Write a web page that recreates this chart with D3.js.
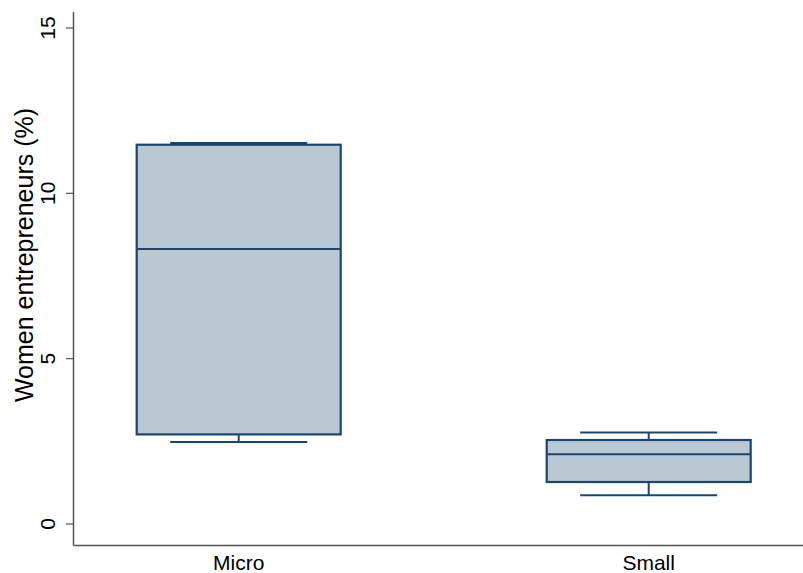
<!DOCTYPE html>
<html>
<head>
<meta charset="utf-8">
<script src="https://cdn.jsdelivr.net/npm/d3@7"></script>
<style>
  html, body { margin: 0; padding: 0; background: #fff; }
  svg { display: block; font-family: "Liberation Sans", Arial, Helvetica, sans-serif; }
</style>
</head>
<body>
<svg id="chart" width="803" height="573"></svg>
<script>
// ---- data ----
const categories   = ["Micro", "Small"];
const whiskerLow   = [2.48, 0.87];
const q1           = [2.71, 1.27];
const median       = [8.32, 2.11];
const q3           = [11.47, 2.54];
const whiskerHigh  = [11.52, 2.77];
const yTicks       = [0, 5, 10, 15];
const yTitle       = "Women entrepreneurs (%)";

const data = categories.map((c, i) => ({
  cat: c, lo: whiskerLow[i], q1: q1[i], med: median[i], q3: q3[i], hi: whiskerHigh[i]
}));

// ---- layout ----
const svg = d3.select("#chart");
const W = 803, H = 573;
const axisX = 73.5, axisY = 545.5, plotTop = 12;
const boxW = 204, capW = 137;
const navy = "#1a476f", fill = "#b9c8d3", axisCol = "#555555";

const x = d3.scalePoint().domain(categories).range([238.7, 648.7]);
const y = d3.scaleLinear().domain([0, 15]).range([524, 28]);

// axis lines
svg.append("line").attr("x1", axisX).attr("x2", axisX).attr("y1", plotTop).attr("y2", axisY)
  .attr("stroke", axisCol).attr("stroke-width", 1.5);
svg.append("line").attr("x1", axisX).attr("x2", W).attr("y1", axisY).attr("y2", axisY)
  .attr("stroke", axisCol).attr("stroke-width", 1.5);

// y ticks
const yt = svg.append("g");
yt.selectAll("line").data(yTicks).join("line")
  .attr("x1", axisX - 7.5).attr("x2", axisX)
  .attr("y1", d => y(d)).attr("y2", d => y(d))
  .attr("stroke", axisCol).attr("stroke-width", 1.2);
yt.selectAll("text").data(yTicks).join("text")
  .attr("transform", d => `translate(55,${y(d)}) rotate(-90)`)
  .attr("text-anchor", "middle")
  .attr("font-size", 21)
  .attr("fill", "#000")
  .text(d => d);

// y title
svg.append("text")
  .attr("transform", `translate(33,255) rotate(-90)`)
  .attr("text-anchor", "middle")
  .attr("font-size", 25)
  .attr("fill", "#000")
  .text(yTitle);

// x labels
svg.append("g").selectAll("text").data(categories).join("text")
  .attr("x", d => x(d)).attr("y", 570)
  .attr("text-anchor", "middle")
  .attr("font-size", 21)
  .attr("fill", "#000")
  .text(d => d);

// boxes
const g = svg.append("g").selectAll("g").data(data).join("g");
// whisker stems
g.append("line").attr("x1", d => x(d.cat)).attr("x2", d => x(d.cat))
  .attr("y1", d => y(d.hi)).attr("y2", d => y(d.q3))
  .attr("stroke", navy).attr("stroke-width", 2);
g.append("line").attr("x1", d => x(d.cat)).attr("x2", d => x(d.cat))
  .attr("y1", d => y(d.q1)).attr("y2", d => y(d.lo))
  .attr("stroke", navy).attr("stroke-width", 2);
// caps
g.append("line").attr("x1", d => x(d.cat) - capW / 2).attr("x2", d => x(d.cat) + capW / 2)
  .attr("y1", d => y(d.hi)).attr("y2", d => y(d.hi))
  .attr("stroke", navy).attr("stroke-width", 2);
g.append("line").attr("x1", d => x(d.cat) - capW / 2).attr("x2", d => x(d.cat) + capW / 2)
  .attr("y1", d => y(d.lo)).attr("y2", d => y(d.lo))
  .attr("stroke", navy).attr("stroke-width", 2);
// box
g.append("rect")
  .attr("x", d => x(d.cat) - boxW / 2).attr("width", boxW)
  .attr("y", d => y(d.q3)).attr("height", d => y(d.q1) - y(d.q3))
  .attr("fill", fill).attr("stroke", navy).attr("stroke-width", 2.2);
// median
g.append("line").attr("x1", d => x(d.cat) - boxW / 2).attr("x2", d => x(d.cat) + boxW / 2)
  .attr("y1", d => y(d.med)).attr("y2", d => y(d.med))
  .attr("stroke", navy).attr("stroke-width", 2);
</script>
</body>
</html>
